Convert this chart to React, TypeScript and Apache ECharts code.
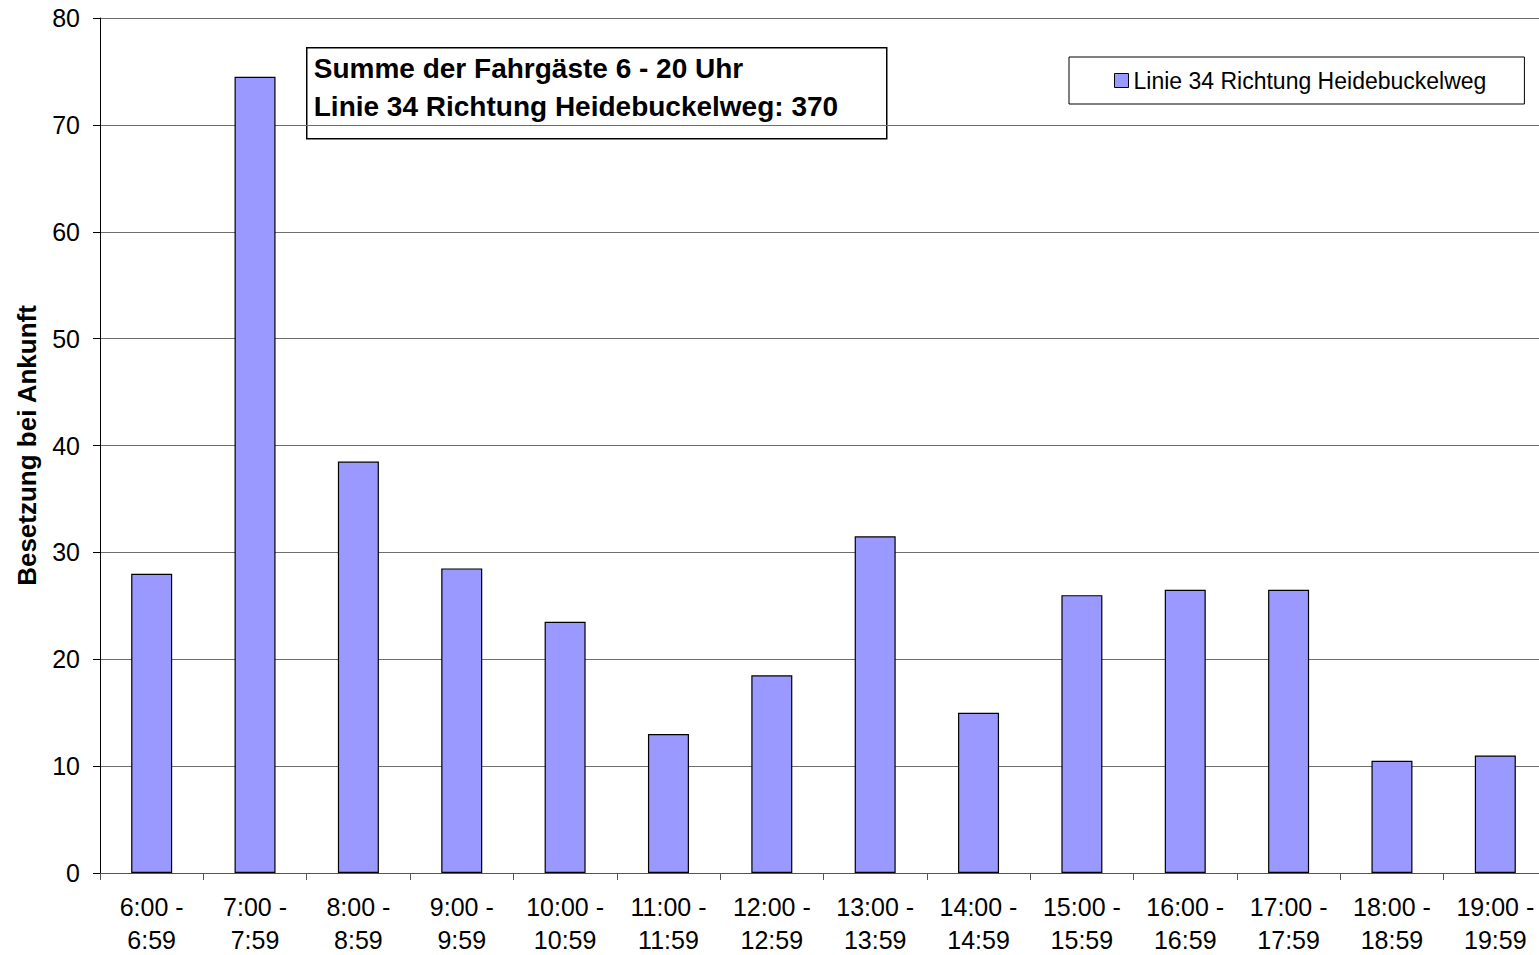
import React, { useEffect, useRef } from 'react';
import * as echarts from 'echarts';

const categories = [
  '6:00 -\n6:59', '7:00 -\n7:59', '8:00 -\n8:59', '9:00 -\n9:59',
  '10:00 -\n10:59', '11:00 -\n11:59', '12:00 -\n12:59', '13:00 -\n13:59',
  '14:00 -\n14:59', '15:00 -\n15:59', '16:00 -\n16:59', '17:00 -\n17:59',
  '18:00 -\n18:59', '19:00 -\n19:59',
];
const values = [28, 74.5, 38.5, 28.5, 23.5, 13, 18.5, 31.5, 15, 26, 26.5, 26.5, 10.5, 11];
const seriesName = 'Linie 34 Richtung Heidebuckelweg';
const yAxisName = 'Besetzung bei Ankunft';
const annotationLines = ['Summe der Fahrgäste 6 - 20 Uhr', 'Linie 34 Richtung Heidebuckelweg: 370'];
const yMin = 0;
const yMax = 80;
const yInterval = 10;

const FONT = '"Liberation Sans", Arial, sans-serif';

export default function App() {
  const ref = useRef<HTMLDivElement>(null);
  useEffect(() => {
    document.body.style.margin = '0';
    document.documentElement.style.overflow = 'hidden';
    if (!ref.current) return;
    const chart = echarts.init(ref.current, undefined, { renderer: 'svg' });
    chart.setOption({
      animation: false,
      backgroundColor: '#ffffff',
      textStyle: { fontFamily: FONT },
      grid: { left: 100, top: 18, width: 1447, height: 855, containLabel: false, outerBoundsMode: 'none' },
      legend: {
        data: [seriesName],
        left: 1069,
        top: 57,
        orient: 'horizontal',
        padding: [12, 38, 12, 45],
        itemWidth: 14,
        itemHeight: 14,
        borderColor: '#000',
        borderWidth: 1,
        backgroundColor: '#fff',
        icon: 'rect',
        itemStyle: { color: '#9999FF', borderColor: '#000', borderWidth: 1 },
        textStyle: { fontSize: 23, color: '#000', fontFamily: FONT },
      },
      xAxis: {
        type: 'category',
        data: categories,
        boundaryGap: true,
        axisLine: { show: true, lineStyle: { color: '#555', width: 1 } },
        axisTick: { show: true, length: 7, inside: false, lineStyle: { color: '#555' } },
        axisLabel: {
          interval: 0,
          fontSize: 25,
          lineHeight: 33,
          color: '#000',
          margin: 17,
          fontFamily: FONT,
        },
        splitLine: { show: false },
      },
      yAxis: {
        type: 'value',
        min: yMin,
        max: yMax,
        interval: yInterval,
        name: yAxisName,
        nameLocation: 'middle',
        nameGap: 60,
        nameRotate: 90,
        nameTextStyle: { fontSize: 26, fontWeight: 'bold', color: '#000', fontFamily: FONT },
        axisLine: { show: true, lineStyle: { color: '#000', width: 1 } },
        axisTick: { show: true, length: 7, inside: false, lineStyle: { color: '#000' } },
        axisLabel: { fontSize: 25, color: '#000', margin: 20, fontFamily: FONT },
        splitLine: { show: true, lineStyle: { color: '#6e6e6e', width: 1 } },
      },
      series: [
        {
          name: seriesName,
          type: 'bar',
          data: values,
          barWidth: 41,
          itemStyle: { color: '#9999FF', borderColor: '#000', borderWidth: 1.2 },
        },
      ],
      graphic: [
        {
          type: 'group',
          left: 306,
          top: 47,
          children: [
            {
              type: 'rect',
              shape: { x: 0, y: 0, width: 580, height: 91 },
              style: { fill: '#fff', stroke: '#000', lineWidth: 1.5 },
            },
            {
              type: 'text',
              x: 7,
              y: 21,
              style: {
                text: annotationLines[0],
                font: `bold 28px ${FONT}`,
                fill: '#000',
                verticalAlign: 'middle',
              },
            },
            {
              type: 'text',
              x: 7,
              y: 59,
              style: {
                text: annotationLines[1],
                font: `bold 28px ${FONT}`,
                fill: '#000',
                verticalAlign: 'middle',
              },
            },
          ],
        },
      ],
    });
    return () => chart.dispose();
  }, []);
  return (
    <div style={{ position: 'absolute', left: 0, top: 0, width: 1539, height: 955, overflow: 'hidden' }}>
      <div ref={ref} style={{ width: 1560, height: 955 }} />
    </div>
  );
}
